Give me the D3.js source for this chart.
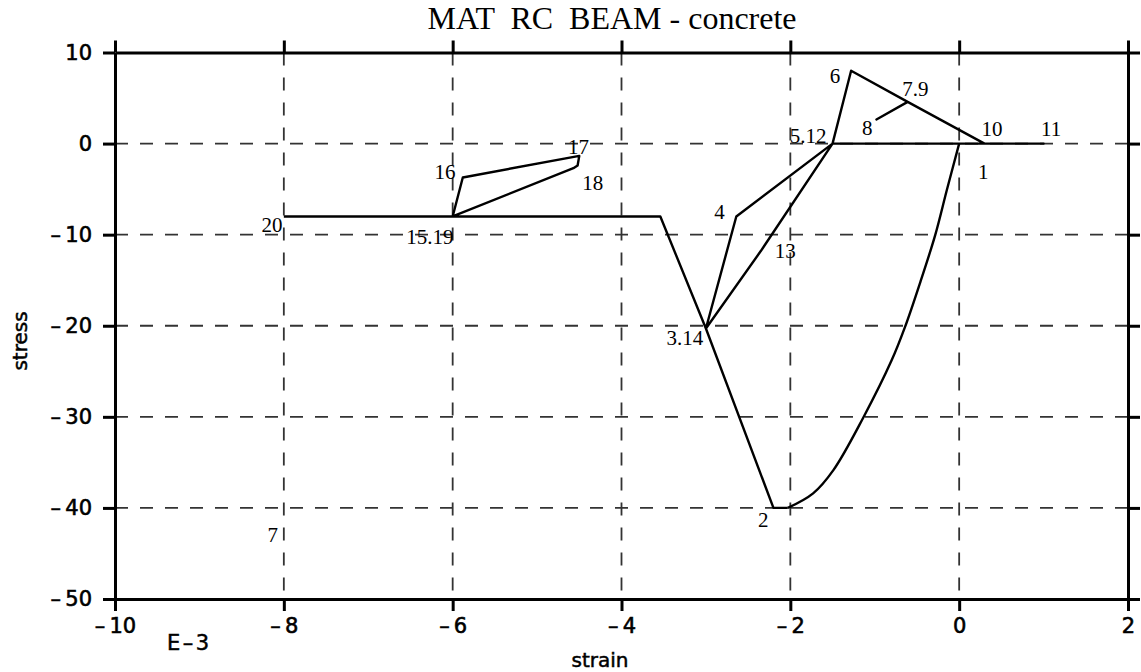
<!DOCTYPE html>
<html>
<head>
<meta charset="utf-8">
<script src="https://cdn.jsdelivr.net/npm/d3@7"></script>
<style>
  html, body { margin: 0; padding: 0; background: #fff; }
  svg { display: block; }
  text { white-space: pre; }
</style>
</head>
<body>
<svg id="chart" width="1141" height="672"></svg>
<script>
// ---- data (strain in E-3, stress) ----
const strainPath = [0, -0.146, -0.284, -0.46, -0.64, -0.80, -1.135, -1.49, -1.73, -2.03,
  -2.2, -3.0, -2.64, -1.5, -1.28, -0.61, -0.98, -0.61, 0.3, 1.0,
  -1.5, -2.35, -3.0, -3.54, -6.0, -5.88, -4.5, -4.52, -4.57, -6.0, -8.0];
const stressPath = [0, -5.1, -10.05, -15.2, -20.1, -23.8, -30.07, -35.85, -38.4, -40,
  -40, -20.3, -8, 0, 8, 4.58, 2.65, 4.58, 0, 0,
  0, -11.8, -20.3, -8, -8, -3.72, -1.35, -2.4, -2.7, -8, -8];
const curveEnd = 9; // index where the smooth loading curve ends

const labelText = ["1", "2", "3.14", "4", "5.12", "6", "7.9", "8", "10", "11", "13", "15.19", "16", "17", "18", "20", "7"];
const labelStrain = [0.284, -2.32, -3.25, -2.84, -1.79, -1.47, -0.52, -1.09, 0.39, 1.09, -2.06, -6.27, -6.09, -4.51, -4.34, -8.14, -8.13];
const labelStress = [-3.14, -41.34, -21.36, -7.53, 0.85, 7.40, 5.97, 1.69, 1.58, 1.58, -11.81, -10.27, -3.14, -0.37, -4.35, -8.96, -43.0];

const xTicks = [-10, -8, -6, -4, -2, 0, 2];
const yTicks = [10, 0, -10, -20, -30, -40, -50];
const xGrid = [-8, -6, -4, -2, 0];
const yGrid = [0, -10, -20, -30, -40];

const titleText = "MAT  RC  BEAM - concrete";
const xLabel = "strain";
const yLabel = "stress";
const xUnit = "E\u20133";

// ---- layout ----
const svg = d3.select("#chart");
const x = d3.scaleLinear().domain([-10, 2]).range([115, 1128]);
const y = d3.scaleLinear().domain([-50, 10]).range([599, 52.5]);

const fmt = d => d < 0 ? "\u2013\u2009" + Math.abs(d) : String(d);
const sans = "'DejaVu Sans', sans-serif";
const serif = "'Liberation Serif', 'Times New Roman', serif";

// grid
const grid = svg.append("g").attr("stroke", "#333").attr("stroke-width", 1.8)
  .attr("stroke-dasharray", "13,12").attr("fill", "none");
grid.selectAll("line.vx").data(xGrid).join("line")
  .attr("x1", d => x(d)).attr("x2", d => x(d))
  .attr("y1", y(10)).attr("y2", y(-50));
grid.selectAll("line.hy").data(yGrid).join("line")
  .attr("y1", d => y(d)).attr("y2", d => y(d))
  .attr("x1", x(-10)).attr("x2", x(2));

// axes
function styleAxis(g) {
  g.select(".domain").attr("stroke", "#000").attr("stroke-width", 3);
  g.selectAll(".tick line").attr("stroke", "#000").attr("stroke-width", 3);
  g.selectAll(".tick text").attr("fill", "#000").attr("stroke", "#000").attr("stroke-width", 0.6)
    .attr("font-family", sans).attr("font-size", 21);
}
svg.append("g").attr("transform", `translate(0,${y(-50)})`)
  .call(d3.axisBottom(x).tickValues(xTicks).tickFormat(fmt).tickSizeInner(12).tickSizeOuter(0).tickPadding(7))
  .call(styleAxis);
svg.append("g").attr("transform", `translate(0,${y(10)})`)
  .call(d3.axisTop(x).tickValues(xTicks).tickFormat("").tickSizeInner(12).tickSizeOuter(0))
  .call(styleAxis);
svg.append("g").attr("transform", `translate(${x(-10)},0)`)
  .call(d3.axisLeft(y).tickValues(yTicks).tickFormat(fmt).tickSizeInner(12).tickSizeOuter(0).tickPadding(11))
  .call(styleAxis);
svg.append("g").attr("transform", `translate(${x(2)},0)`)
  .call(d3.axisRight(y).tickValues(yTicks).tickFormat("").tickSizeInner(12).tickSizeOuter(0))
  .call(styleAxis);

// data line
const pts = strainPath.map((s, i) => [s, stressPath[i]]);
const lineCurve = d3.line().x(d => x(d[0])).y(d => y(d[1])).curve(d3.curveCatmullRom.alpha(0.5));
const lineLin = d3.line().x(d => x(d[0])).y(d => y(d[1]));
svg.append("path").attr("d", lineCurve(pts.slice(0, curveEnd + 1)))
  .attr("fill", "none").attr("stroke", "#000").attr("stroke-width", 2.4).attr("stroke-linejoin", "round");
svg.append("path").attr("d", lineLin(pts.slice(curveEnd)))
  .attr("fill", "none").attr("stroke", "#000").attr("stroke-width", 2.4).attr("stroke-linejoin", "round");

// point labels
svg.append("g").selectAll("text").data(labelText).join("text")
  .attr("x", (d, i) => x(labelStrain[i]))
  .attr("y", (d, i) => y(labelStress[i]))
  .attr("text-anchor", "middle").attr("dominant-baseline", "central")
  .attr("font-family", serif).attr("font-size", 21).attr("fill", "#000")
  .text(d => d);

// title & axis labels
svg.append("text").attr("x", 612).attr("y", 29).attr("text-anchor", "middle")
  .attr("font-family", serif).attr("font-size", 32).attr("fill", "#000").text(titleText);
svg.append("text").attr("x", 600).attr("y", 667).attr("text-anchor", "middle")
  .attr("font-family", sans).attr("font-size", 20).attr("fill", "#000")
  .attr("stroke", "#000").attr("stroke-width", 0.5).text(xLabel);
svg.append("text").attr("transform", "translate(27,341) rotate(-90)").attr("text-anchor", "middle")
  .attr("font-family", sans).attr("font-size", 20).attr("fill", "#000")
  .attr("stroke", "#000").attr("stroke-width", 0.5).text(yLabel);
svg.append("text").attr("x", 167).attr("y", 650).attr("letter-spacing", 2.5)
  .attr("font-family", sans).attr("font-size", 21).attr("fill", "#000")
  .attr("stroke", "#000").attr("stroke-width", 0.5).text(xUnit);
</script>
</body>
</html>
